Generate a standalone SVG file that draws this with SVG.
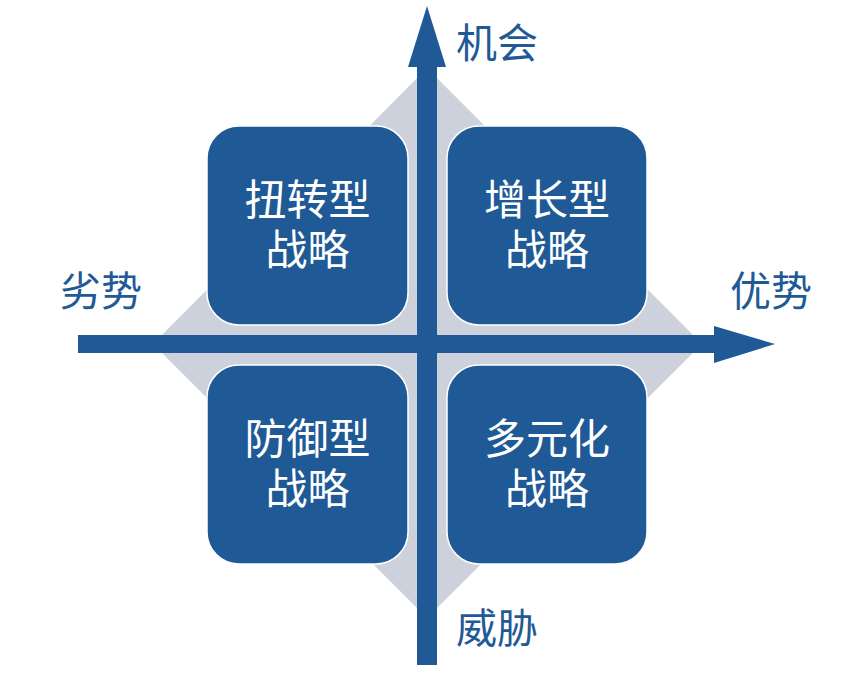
<svg xmlns="http://www.w3.org/2000/svg" width="854" height="678" viewBox="0 0 854 678">
<style>
.box{fill:#1F5A96;stroke:#FFFFFF;stroke-width:1.5}
.bt{fill:#FFFFFF;font-family:"Noto Sans CJK SC",sans-serif;font-size:42px;text-anchor:middle}
.lb{fill:#1F5A96;font-family:"Noto Sans CJK SC",sans-serif;font-size:41px}
.ax{fill:#1F5A96}
</style>
<polygon id="diamond" points="427,68 702,344 427,618 153,344" fill="#CDD1DB"/>
<g id="connectors">
<polygon class="ax" points="78,335 714,335 714,326 775,344 714,363 714,353 78,353"/>
<polygon class="ax" points="417,665 417,67 408,67 427,6 446,67 437,67 437,665"/>
</g>
<g id="tl">
<rect class="box" x="207" y="126" width="201" height="199" rx="32"/>
<text class="bt" x="307.5" y="215">扭转型</text>
<text class="bt" x="307.5" y="265">战略</text>
</g>
<g id="tr">
<rect class="box" x="447" y="126" width="200" height="199" rx="32"/>
<text class="bt" x="547" y="215">增长型</text>
<text class="bt" x="547" y="265">战略</text>
</g>
<g id="bl">
<rect class="box" x="207" y="365" width="201" height="199" rx="32"/>
<text class="bt" x="307.5" y="454">防御型</text>
<text class="bt" x="307.5" y="504">战略</text>
</g>
<g id="br">
<rect class="box" x="447" y="365" width="200" height="199" rx="32"/>
<text class="bt" x="547" y="454">多元化</text>
<text class="bt" x="547" y="504">战略</text>
</g>
<g id="labels">
<text class="lb" x="456" y="58">机会</text>
<text class="lb" x="60" y="306">劣势</text>
<text class="lb" x="730" y="306">优势</text>
<text class="lb" x="456" y="643">威胁</text>
</g>
</svg>
